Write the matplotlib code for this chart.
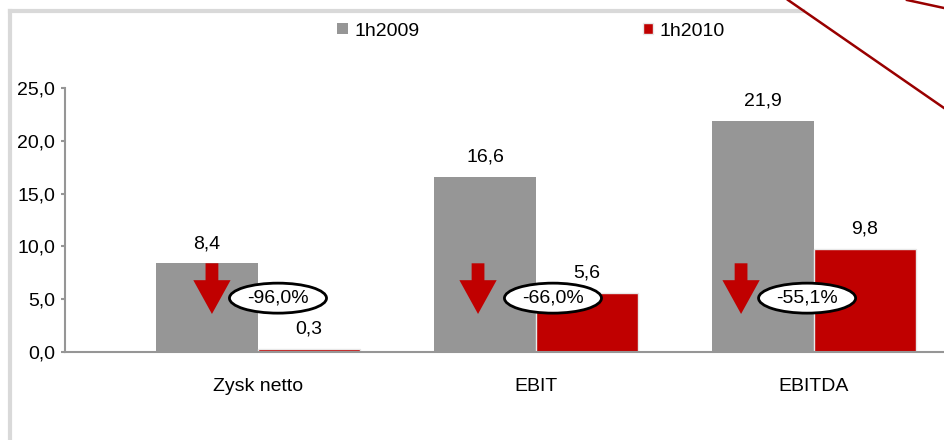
import matplotlib
matplotlib.use("Agg")
import matplotlib.pyplot as plt
from matplotlib.lines import Line2D
from matplotlib.patches import Ellipse, Polygon
import numpy as np

plt.rcParams["font.family"] = ["Liberation Sans", "DejaVu Sans"]

categories = ["Zysk netto", "EBIT", "EBITDA"]
h2009 = [8.4, 16.6, 21.9]
h2010 = [0.3, 5.6, 9.8]
changes = ["-96,0%", "-66,0%", "-55,1%"]
series_names = ["1h2009", "1h2010"]
yticks = [0, 5, 10, 15, 20, 25]

GRAY = "#969696"
RED = "#c00000"
DARK_RED = "#990000"
FS = 14


def fmt(v):
    return f"{v:.1f}".replace(".", ",")


fig = plt.figure(figsize=(9.44, 4.40), dpi=100)
ax = fig.add_axes([65 / 944, 0.2, (1007 - 65) / 944, 0.6])

x = np.arange(len(categories))
w = 0.367
b1 = ax.bar(x - w / 2, h2009, w, color=GRAY, label=series_names[0], zorder=2)
b2 = ax.bar(x + w / 2, h2010, w, color=RED, edgecolor="#e8e8e8", linewidth=1,
            label=series_names[1], zorder=2)

for bars, vals in ((b1, h2009), (b2, h2010)):
    for rect, v in zip(bars, vals):
        ax.annotate(fmt(v), (rect.get_x() + rect.get_width() / 2, v),
                    xytext=(0, 8), textcoords="offset points",
                    ha="center", va="bottom", fontsize=FS, zorder=5)

# down arrows and change bubbles
arrow_dx = [0.018, -0.025, -0.079]
bubble_dx = [0.072, 0.061, -0.025]
for i, ch in enumerate(changes):
    cx = x[i] - w / 2 + arrow_dx[i]
    top_y, tip_y, neck_y = 8.4, 3.6, 6.8
    sw, hw = 0.023, 0.067
    arrow = Polygon([(cx - sw, top_y), (cx + sw, top_y), (cx + sw, neck_y),
                     (cx + hw, neck_y), (cx, tip_y), (cx - hw, neck_y),
                     (cx - sw, neck_y)], closed=True, facecolor=RED,
                    edgecolor="none", zorder=3)
    ax.add_patch(arrow)
    ex = x[i] + bubble_dx[i]
    ax.add_patch(Ellipse((ex, 5.1), 0.349, 2.84, facecolor="white",
                         edgecolor="black", linewidth=2, zorder=4))
    ax.text(ex, 5.1, ch, ha="center", va="center", fontsize=FS, zorder=5)

ax.set_xlim(-0.694, 2.694)
ax.set_ylim(0, 25)
ax.set_yticks(yticks)
ax.set_yticklabels([fmt(t) for t in yticks], fontsize=FS)
ax.set_xticks(x)
ax.set_xticklabels(categories, fontsize=FS)
ax.tick_params(axis="x", length=0, pad=19)
ax.tick_params(axis="y", length=3, color=GRAY, width=1.5, pad=4)
for s in ("top", "right"):
    ax.spines[s].set_visible(False)
for s in ("left", "bottom"):
    ax.spines[s].set_color(GRAY)
    ax.spines[s].set_linewidth(1.5)

fig.legend(handles=[b1, b2], labels=series_names, loc="center",
           bbox_to_anchor=(531 / 944, 1 - 31 / 440), ncol=2, frameon=False,
           fontsize=FS, handlelength=0.55, handleheight=0.55,
           handletextpad=0.3, columnspacing=11.5)

# slide frame and decorative lines
fig.add_artist(Line2D([9.5 / 944, 9.5 / 944], [0, 1 - 11.5 / 440],
                      transform=fig.transFigure, color="#d9d9d9", lw=3))
fig.add_artist(Line2D([9.5 / 944, 803 / 944], [1 - 11.5 / 440, 1 - 11.5 / 440],
                      transform=fig.transFigure, color="#d9d9d9", lw=3))
fig.add_artist(Line2D([788 / 944, 1], [1, 1 - 108 / 440],
                      transform=fig.transFigure, color=DARK_RED, lw=1.8))
fig.add_artist(Line2D([907 / 944, 1], [1, 1 - 8 / 440],
                      transform=fig.transFigure, color=DARK_RED, lw=1.8))

fig.savefig("out.png", dpi=100)
